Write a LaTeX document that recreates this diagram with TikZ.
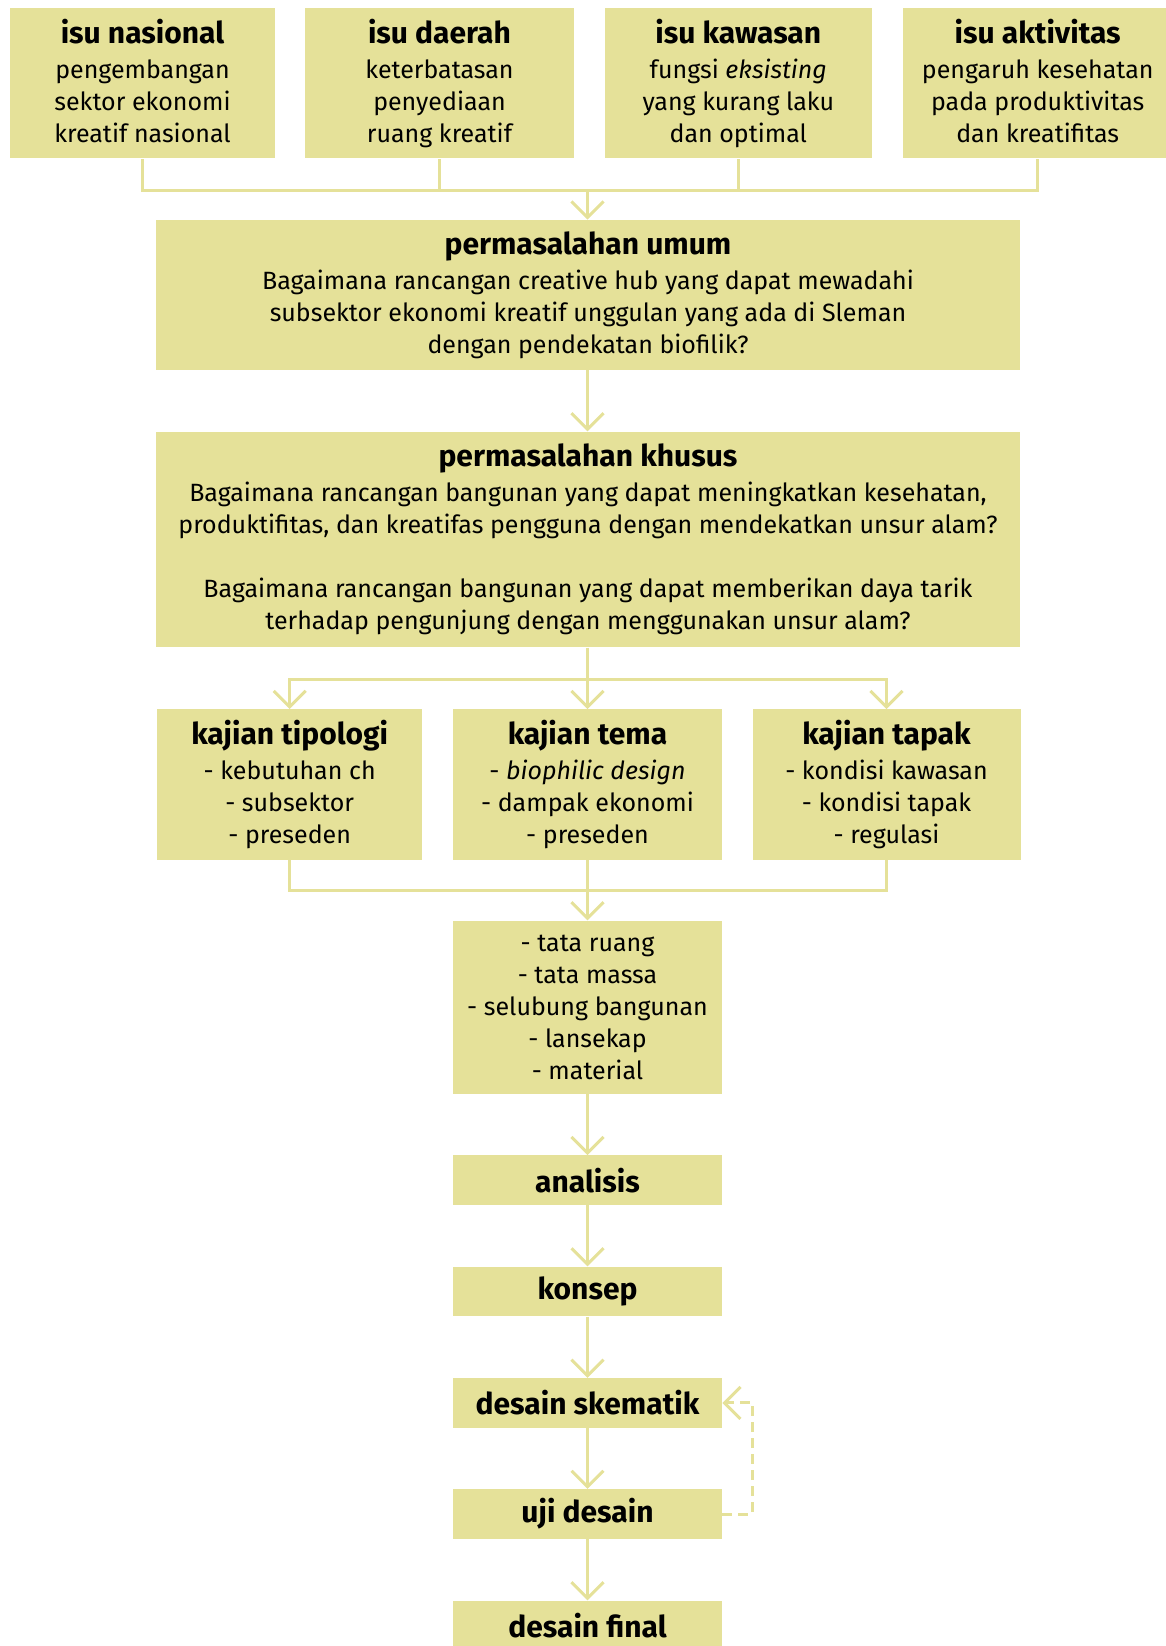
\documentclass[tikz,border=0pt]{standalone}
\usepackage{fontspec}
\setmainfont{Fira Sans}
\usetikzlibrary{arrows.meta}

\definecolor{boxfill}{RGB}{229,225,153}
\newcommand{\bodysize}{\fontsize{12.5}{16}\selectfont}
\newcommand{\headsize}{\fontsize{15}{16}\selectfont\bfseries}
\newcommand{\hd}[1]{{\headsize #1}\\[1.5pt]}

\begin{document}
\begin{tikzpicture}[
  x=0.5pt, y=-0.5pt,
  panel/.style={fill=boxfill, draw=none, inner sep=0pt, align=center, font=\bodysize},
  smallpanel/.style={panel, minimum width=134.5pt, minimum height=24.75pt, font=\headsize},
  link/.style={draw=boxfill, line width=1.5pt},
  arr/.style={link, -{Straight Barb[length=8pt, width=16pt, line width=1.5pt]}},
  loopback/.style={arr, dash pattern=on 5pt off 3pt}
]
\useasboundingbox (0,0) rectangle (1166,1646);
\begin{scope}
\clip (0,0) rectangle (1166,1646);

% issue boxes along the top
\node[panel, minimum width=132.5pt, minimum height=75pt] (isu1) at (142.5,83.4)
  {\hd{isu nasional}pengembangan\\sektor ekonomi\\kreatif nasional\\[-13pt]};
\node[panel, minimum width=134.5pt, minimum height=75pt] (isu2) at (439.5,83.4)
  {\hd{isu daerah}keterbatasan\\penyediaan\\ruang kreatif\\[-13pt]};
\node[panel, minimum width=133.75pt, minimum height=75pt] (isu3) at (738.3,83.4)
  {\hd{isu kawasan}fungsi \textit{eksisting}\\yang kurang laku\\dan optimal\\[-13pt]};
\node[panel, minimum width=134.5pt, minimum height=75pt] (isu4) at (1037.7,83.4)
  {\hd{isu aktivitas}pengaruh kesehatan\\pada produktivitas\\dan kreatifitas\\[-13pt]};

% research questions
\node[panel, minimum width=431.7pt, minimum height=75pt] (umum) at (588,295)
  {\hd{permasalahan umum}Bagaimana rancangan creative hub yang dapat mewadahi\\subsektor ekonomi kreatif unggulan yang ada di Sleman\\dengan pendekatan biofilik?};
\node[panel, minimum width=431.7pt, minimum height=107.8pt] (khusus) at (588,539.5)
  {\hd{permasalahan khusus}Bagaimana rancangan bangunan yang dapat meningkatkan kesehatan,\\produktifitas, dan kreatifas pengguna dengan mendekatkan unsur alam?\\[16pt]Bagaimana rancangan bangunan yang dapat memberikan daya tarik\\terhadap pengunjung dengan menggunakan unsur alam?};

% studies
\node[panel, minimum width=132.4pt, minimum height=75.3pt] (tipologi) at (289.7,784.7)
  {\hd{kajian tipologi}- kebutuhan ch\\- subsektor\\- preseden};
\node[panel, minimum width=134.5pt, minimum height=75.3pt] (tema) at (587.5,784.7)
  {\hd{kajian tema}- \textit{biophilic design}\\- dampak ekonomi\\- preseden};
\node[panel, minimum width=134pt, minimum height=75.3pt] (tapak) at (886.5,784.7)
  {\hd{kajian tapak}- kondisi kawasan\\- kondisi tapak\\- regulasi};

% design aspects
\node[panel, minimum width=134.5pt, minimum height=86.5pt] (aspek) at (587.5,1007.2)
  {- tata ruang\\- tata massa\\- selubung bangunan\\- lansekap\\- material};

% design stages
\node[smallpanel] (analisis) at (587.5,1180.2) {analisis};
\node[smallpanel] (konsep) at (587.5,1291.5) {konsep};
\node[smallpanel] (skematik) at (587.5,1402.9) {desain skematik};
\node[smallpanel] (uji) at (587.5,1514.1) {uji desain};
\node[smallpanel] (final) at (587.5,1625.4) {desain final};

% issues merge into the general question
\coordinate (topjoin) at (587.5,190);
\draw[link] (isu1.south) |- (topjoin) -| (isu4.south);
\draw[link] (isu2.south) -- (isu2.south |- topjoin);
\draw[link] (isu3.south) -- (isu3.south |- topjoin);
\draw[arr] (topjoin) -- (umum.north -| topjoin);
\draw[arr] (umum.south -| topjoin) -- (khusus.north -| topjoin);

% specific question splits into the three studies
\coordinate (split) at (587.5,679);
\draw[link] (khusus.south -| split) -- (split);
\draw[arr] (split) -| (tipologi.north);
\draw[arr] (split) -| (tapak.north);
\draw[arr] (split) -- (tema.north);

% studies merge into the design aspects
\coordinate (merge) at (587.5,890.7);
\draw[link] (tipologi.south) |- (merge) -| (tapak.south);
\draw[arr] (tema.south) -- (aspek.north);

% stage sequence
\draw[arr] (aspek.south) -- (analisis.north);
\draw[arr] (analisis.south) -- (konsep.north);
\draw[arr] (konsep.south) -- (skematik.north);
\draw[arr] (skematik.south) -- (uji.north);
\draw[arr] (uji.south) -- (final.north);

% revision loop
\draw[loopback] (uji.east) -- ++(30,0) |- (skematik.east);
\end{scope}
\end{tikzpicture}
\end{document}
